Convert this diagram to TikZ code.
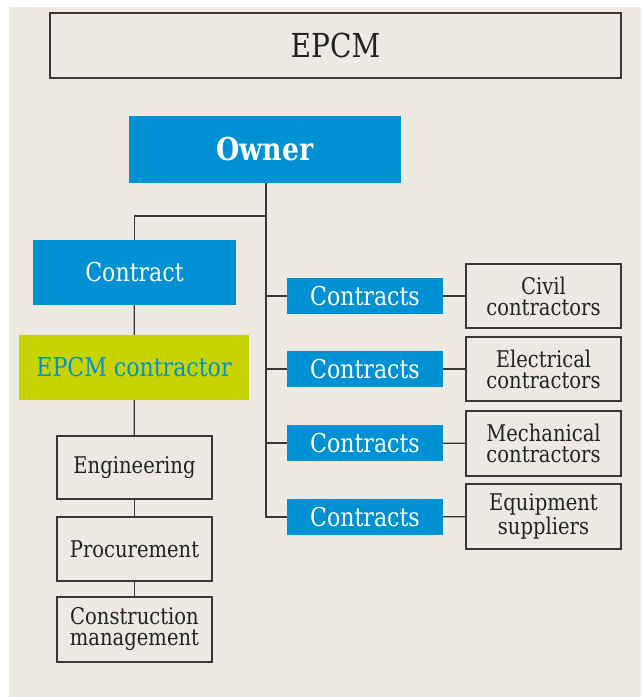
\documentclass[tikz,border=0pt]{standalone}
\usepackage{fontspec}
\setmainfont[FakeStretch=0.85]{DejaVu Serif}
\usepackage{xcolor}
\usepackage{tikz}
\usetikzlibrary{positioning}

\definecolor{paper}{HTML}{EDEAE4}
\definecolor{epcmblue}{HTML}{0091D5}
\definecolor{epcmgreen}{HTML}{C8D400}
\definecolor{inkline}{HTML}{3A3836}
\definecolor{inktext}{HTML}{222222}

\begin{document}
\begin{tikzpicture}[x=1pt,y=-1pt,
	bluebox/.style={fill=epcmblue,text=white,inner sep=0pt},
	plainbox/.style={draw=inkline,line width=1.2pt,text=inktext,inner sep=0pt,align=center,
		minimum width=155pt,minimum height=64pt,font=\fontsize{23}{21}\selectfont},
	contractsbox/.style={bluebox,minimum width=156pt,minimum height=36pt,font=\fontsize{26}{28}\selectfont},
	link/.style={draw=inkline,line width=1.2pt}]
			% page and background
			\fill[white] (0,0) rectangle (641,697);
			\fill[paper] (9,7) rectangle (641,697);
			\useasboundingbox (0,0) rectangle (641,697);

			% title
			\node[draw=inkline,line width=2pt,text=inktext,minimum width=571pt,minimum height=65pt,
				font=\fontsize{33}{36}\selectfont] (title) at (335.5,45.5) {EPCM};

			% owner and the left column
			\node[bluebox,minimum width=272pt,minimum height=67pt,font=\bfseries\fontsize{31.5}{34}\selectfont]
				(owner) at (265,149.5) {Owner};
			\node[bluebox,minimum width=203pt,minimum height=65pt,font=\fontsize{26}{28}\selectfont]
				(contract) at (134.5,272.5) {Contract};
			\node[fill=epcmgreen,text=epcmblue,inner sep=0pt,minimum width=230pt,minimum height=65pt,
				font=\fontsize{26}{28}\selectfont] (epcm) at (134,367.5) {EPCM contractor};
			\node[plainbox,minimum height=63pt] (eng) at (134.5,467.5) {Engineering};
			\node[plainbox] (proc) at (134.5,549) {Procurement};
			\node[plainbox,minimum height=65pt] (cm) at (134.5,629.5) {Construction\\management};

			% contracts on the right
			\node[contractsbox] (k1) at (365,296) {Contracts};
			\node[contractsbox] (k2) at (365,369) {Contracts};
			\node[contractsbox] (k3) at (365,443) {Contracts};
			\node[contractsbox] (k4) at (365,517) {Contracts};
			\node[plainbox] (civil) at (543.5,296) {Civil\\contractors};
			\node[plainbox] (elec) at (543.5,369) {Electrical\\contractors};
			\node[plainbox,minimum height=65pt] (mech) at (543.5,443.5) {Mechanical\\contractors};
			\node[plainbox,minimum height=65pt] (equip) at (543.5,516.5) {Equipment\\suppliers};

			% connectors
			\coordinate (trunk) at (266,216);
			\coordinate (trunkend) at (266,517);
			\draw[link] (owner.south -| trunk) -- (trunkend) -- (k4.west);
			\draw[link] (trunk) -| (contract.north);
			\draw[link] (contract) -- (epcm);
			\draw[link] (epcm) -- (eng);
			\draw[link] (eng) -- (proc);
			\draw[link] (proc) -- (cm);
			\foreach \k in {k1,k2,k3}
				\draw[link] (\k.west -| trunk) -- (\k.west);
			\draw[link] (k1) -- (civil);
			\draw[link] (k2) -- (elec);
			\draw[link] (k3) -- (mech);
			\draw[link] (k4) -- (equip);
\end{tikzpicture}
\end{document}
